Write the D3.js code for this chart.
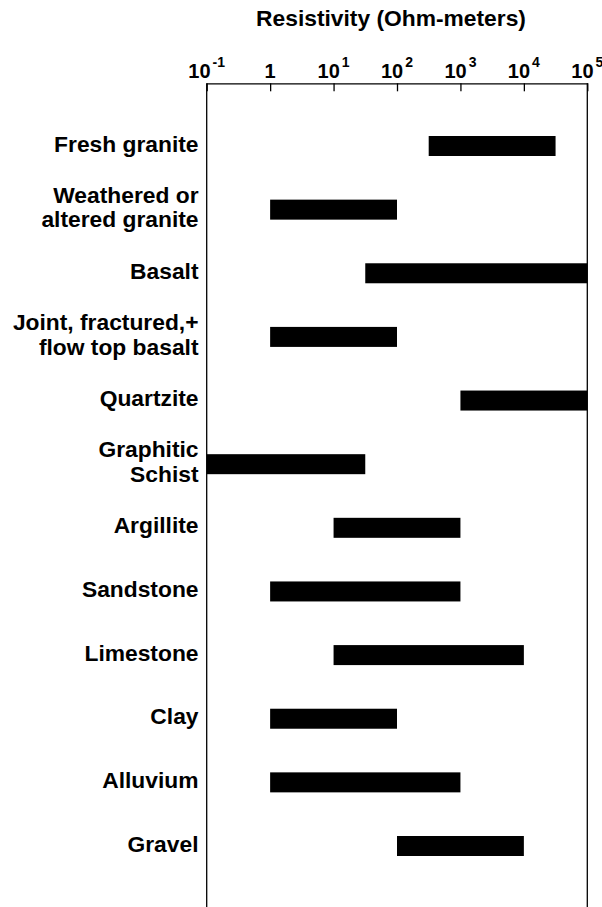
<!DOCTYPE html>
<html>
<head>
<meta charset="utf-8">
<script src="https://cdn.jsdelivr.net/npm/d3@7"></script>
<style>
  html, body { margin: 0; padding: 0; background: #fff; }
  svg { display: block; }
  text { font-family: "Liberation Sans", Arial, Helvetica, sans-serif; font-weight: bold; fill: #000; }
</style>
</head>
<body>
<svg id="chart" width="602" height="907"></svg>
<script>
// Rock types (label lines) and resistivity ranges in ohm-meters
const rocks = [
  ["Fresh granite"],
  ["Weathered or", "altered granite"],
  ["Basalt"],
  ["Joint, fractured,+", "flow top basalt"],
  ["Quartzite"],
  ["Graphitic", "Schist"],
  ["Argillite"],
  ["Sandstone"],
  ["Limestone"],
  ["Clay"],
  ["Alluvium"],
  ["Gravel"]
];
const rangeLow  = [316, 1, 31.6, 1, 1000, 0.1, 10, 1, 10, 1, 1, 100];
const rangeHigh = [31600, 100, 100000, 100, 100000, 31.6, 1000, 1000, 10000, 100, 1000, 10000];

// Axis ticks: value, base text, exponent text
const tickValues = [0.1, 1, 10, 100, 1000, 10000, 100000];
const tickBase   = ["10", "1", "10", "10", "10", "10", "10"];
const tickExp    = ["-1", "", "1", "2", "3", "4", "5"];

const axisTitle = "Resistivity (Ohm-meters)";

const W = 602, H = 907;
const plotLeft = 206.7, plotRight = 587.3, plotTop = 83.3;

const svg = d3.select("#chart");

const x = d3.scaleLog().domain([0.1, 100000]).range([plotLeft, plotRight]);
const y = d3.scalePoint().domain(d3.range(rocks.length)).range([146, 846]);
const barH = 20;

// Bars
svg.append("g").selectAll("rect")
  .data(d3.range(rocks.length))
  .join("rect")
  .attr("x", i => x(rangeLow[i]))
  .attr("width", i => x(rangeHigh[i]) - x(rangeLow[i]))
  .attr("y", i => y(i) - barH / 2)
  .attr("height", barH)
  .attr("fill", "#000");

// Top axis with inward ticks
const axis = d3.axisTop(x)
  .tickValues(tickValues)
  .tickSize(-8)
  .tickSizeOuter(0)
  .tickFormat("");
const gAxis = svg.append("g").attr("transform", `translate(0,${plotTop})`).call(axis);
gAxis.selectAll("path, line").attr("stroke", "#000").attr("stroke-width", 1.3);
gAxis.selectAll(".tick text").remove();

// Side lines of the frame
svg.append("line").attr("x1", plotLeft).attr("x2", plotLeft).attr("y1", plotTop).attr("y2", H)
  .attr("stroke", "#000").attr("stroke-width", 1.3);
svg.append("line").attr("x1", plotRight).attr("x2", plotRight).attr("y1", plotTop).attr("y2", H)
  .attr("stroke", "#000").attr("stroke-width", 1.3);

// Tick labels with superscript exponents
const tl = svg.append("g").selectAll("text")
  .data(tickValues)
  .join("text")
  .attr("x", d => x(d))
  .attr("y", 78)
  .attr("text-anchor", "middle")
  .style("font-size", "20px");
tl.append("tspan").text((d, i) => tickBase[i]);
tl.append("tspan")
  .attr("dx", 2)
  .attr("dy", -11)
  .style("font-size", "14px")
  .text((d, i) => tickExp[i]);

// Axis title
svg.append("text")
  .attr("x", 391)
  .attr("y", 26)
  .attr("text-anchor", "middle")
  .style("font-size", "22.8px")
  .text(axisTitle);

// Category labels
const lineH = 24.5;
const lab = svg.append("g").selectAll("text")
  .data(d3.range(rocks.length))
  .join("text")
  .attr("text-anchor", "end")
  .style("font-size", "22.8px");
lab.each(function(i) {
  const lines = rocks[i];
  const t = d3.select(this);
  const y0 = y(i) + 5.5 - (lines.length - 1) * lineH / 2;
  lines.forEach((s, k) => {
    t.append("tspan").attr("x", 198.5).attr("y", y0 + k * lineH).text(s);
  });
});
</script>
</body>
</html>
